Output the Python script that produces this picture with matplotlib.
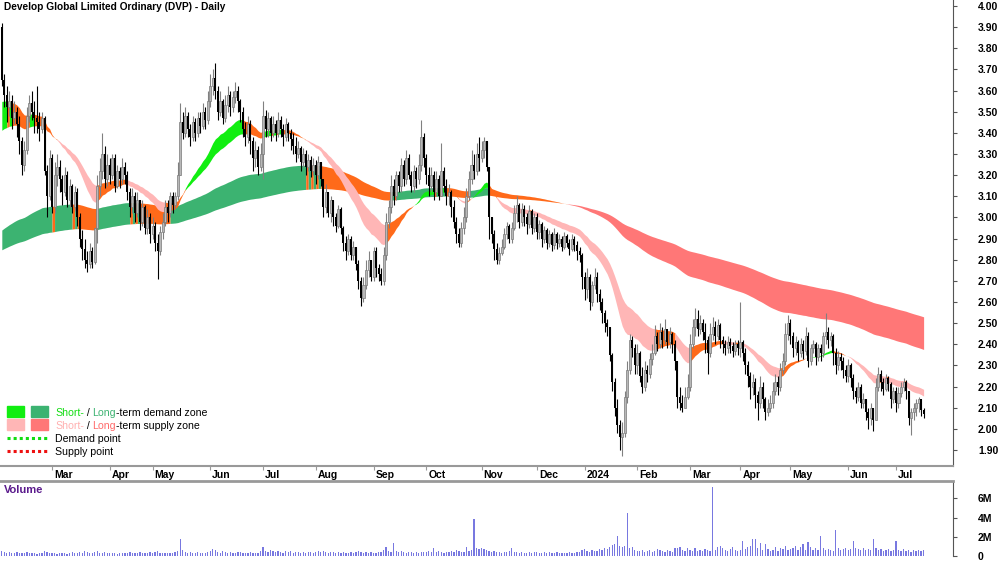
import numpy as np
import pandas as pd
import matplotlib
matplotlib.use('Agg')
import matplotlib.pyplot as plt
from matplotlib import font_manager
from matplotlib.transforms import blended_transform_factory
from matplotlib.patches import Rectangle
from matplotlib.lines import Line2D

plt.rcParams['font.family'] = ['Liberation Sans', 'DejaVu Sans']
font_names = {f.name for f in font_manager.fontManager.ttflist}
has_narrow = 'Liberation Sans Narrow' in font_names

# ASX trading days shown on the chart
holidays = ['2023-04-07', '2023-04-10', '2023-04-25', '2023-06-12', '2023-12-25', '2023-12-26',
            '2024-01-01', '2024-01-26', '2024-03-29', '2024-04-01', '2024-04-25', '2024-06-10']
dates = pd.bdate_range('2023-02-01', '2024-07-16', freq='C', holidays=holidays)

first_open = 3.90

closes = [
    # Feb 2023
    3.65, 3.58, 3.52, 3.55, 3.47, 3.50, 3.44, 3.36, 3.25, 3.32,
    3.48, 3.54, 3.50, 3.47, 3.45, 3.42, 3.47, 3.22, 3.10, 3.28,
    # Mar
    3.05, 3.20, 3.24, 3.18, 3.12, 3.20, 3.08, 3.15, 3.05, 3.12,
    3.00, 2.90, 2.85, 2.80, 2.78, 2.84, 2.79, 2.95, 3.15, 3.22,
    3.30, 3.18, 3.25,
    # Apr
    3.20, 3.28, 3.15, 3.22, 3.18, 3.24, 3.20, 3.12, 3.05, 3.10,
    3.02, 3.08, 2.98, 3.05, 2.95, 3.00, 2.92,
    # May
    2.96, 2.88, 2.84, 2.93, 2.98, 3.05, 3.02, 3.10, 3.06, 3.10,
    3.20, 3.45, 3.40, 3.48, 3.42, 3.38, 3.45, 3.40, 3.47, 3.43,
    3.50, 3.46, 3.55,
    # Jun
    3.62, 3.66, 3.60, 3.50, 3.55, 3.47, 3.53, 3.58, 3.52, 3.57,
    3.60, 3.55, 3.50, 3.42, 3.38, 3.44, 3.36, 3.28, 3.32, 3.24,
    3.30,
    # Jul
    3.48, 3.42, 3.47, 3.40, 3.44, 3.40, 3.46, 3.42, 3.38, 3.44,
    3.40, 3.37, 3.34, 3.30, 3.33, 3.26, 3.30, 3.24, 3.27, 3.22,
    3.25,
    # Aug
    3.20, 3.26, 3.18, 3.05, 3.12, 3.02, 3.08, 3.00, 2.96, 3.04,
    2.95, 2.88, 2.84, 2.90, 2.82, 2.86, 2.78, 2.70, 2.62, 2.68,
    2.75, 2.80, 2.72,
    # Sep
    2.84, 2.76, 2.73, 2.70, 2.82, 2.98, 3.05, 3.15, 3.10, 3.20,
    3.15, 3.25, 3.18, 3.28, 3.20, 3.15, 3.22, 3.18, 3.25, 3.38,
    3.28,
    # Oct
    3.20, 3.15, 3.20, 3.12, 3.18, 3.10, 3.22, 3.15, 3.10, 3.12,
    3.05, 2.98, 2.92, 2.88, 2.95, 3.00, 3.10, 3.18, 3.25, 3.22,
    3.30, 3.28,
    # Nov
    3.32, 3.36, 3.24, 3.00, 2.92, 2.85, 2.80, 2.83, 2.86, 2.92,
    2.96, 2.90, 2.95, 3.02, 3.06, 2.98, 3.04, 3.00, 2.97, 3.03,
    2.95, 3.00,
    # Dec
    2.93, 2.97, 2.90, 2.94, 2.88, 2.92, 2.87, 2.92, 2.88, 2.90,
    2.86, 2.91, 2.88, 2.85, 2.90, 2.87, 2.84, 2.82, 2.72,
    # Jan 2024
    2.66, 2.72, 2.60, 2.68, 2.72, 2.64, 2.60, 2.55, 2.50, 2.48,
    2.35, 2.22, 2.10, 2.02, 1.96, 1.98, 2.15, 2.28, 2.42, 2.38,
    2.30,
    # Feb
    2.36, 2.25, 2.20, 2.28, 2.26, 2.33, 2.36, 2.44, 2.40, 2.46,
    2.42, 2.47, 2.41, 2.45, 2.40, 2.32, 2.15, 2.12, 2.10, 2.15,
    2.20,
    # Mar
    2.40, 2.48, 2.52, 2.47, 2.50, 2.46, 2.42, 2.36, 2.45, 2.48,
    2.44, 2.49, 2.42, 2.40, 2.38, 2.41, 2.39, 2.37, 2.40, 2.38,
    # Apr
    2.41, 2.36, 2.30, 2.25, 2.20, 2.22, 2.16, 2.12, 2.20, 2.14,
    2.08, 2.10, 2.12, 2.18, 2.22, 2.20, 2.28, 2.32, 2.45, 2.50,
    # May
    2.44, 2.38, 2.41, 2.36, 2.40, 2.37, 2.44, 2.32, 2.38, 2.40,
    2.34, 2.38, 2.36, 2.44, 2.46, 2.42, 2.44, 2.36, 2.30, 2.34,
    2.32, 2.28, 2.25,
    # Jun
    2.30, 2.24, 2.18, 2.15, 2.20, 2.12, 2.14, 2.08, 2.05, 2.10,
    2.04, 2.20, 2.26, 2.22, 2.19, 2.24, 2.21, 2.14, 2.18,
    # Jul
    2.12, 2.17, 2.20, 2.22, 2.18, 2.05, 2.08, 2.10, 2.12, 2.14,
    2.09, 2.07,
]

highs = [
    3.92, 3.68, 3.62, 3.60, 3.58, 3.55, 3.52, 3.48, 3.38, 3.36,
    3.52, 3.58, 3.60, 3.55, 3.62, 3.50, 3.50, 3.48, 3.25, 3.32,
    3.30, 3.26, 3.30, 3.27, 3.20, 3.24, 3.22, 3.18, 3.16, 3.15,
    3.14, 3.02, 2.94, 2.90, 2.84, 2.88, 2.86, 2.95, 3.20, 3.28,
    3.40, 3.34, 3.30,
    3.28, 3.30, 3.30, 3.25, 3.24, 3.28, 3.26, 3.22, 3.14, 3.14,
    3.12, 3.12, 3.08, 3.08, 3.06, 3.04, 3.02,
    3.00, 2.98, 2.92, 2.96, 3.02, 3.08, 3.08, 3.12, 3.12, 3.12,
    3.26, 3.54, 3.50, 3.52, 3.50, 3.44, 3.48, 3.47, 3.50, 3.50,
    3.54, 3.52, 3.60,
    3.68, 3.70, 3.73, 3.62, 3.60, 3.56, 3.58, 3.62, 3.60, 3.60,
    3.64, 3.62, 3.56, 3.52, 3.45, 3.48, 3.46, 3.38, 3.36, 3.34,
    3.35,
    3.55, 3.51, 3.50, 3.48, 3.48, 3.46, 3.50, 3.48, 3.44, 3.47,
    3.45, 3.42, 3.40, 3.38, 3.36, 3.34, 3.33, 3.32, 3.30, 3.29,
    3.28,
    3.27, 3.29, 3.26, 3.18, 3.16, 3.12, 3.10, 3.08, 3.02, 3.06,
    3.05, 2.96, 2.91, 2.92, 2.91, 2.89, 2.86, 2.80, 2.72, 2.72,
    2.80, 2.84, 2.80,
    2.86, 2.86, 2.78, 2.76, 2.86, 3.02, 3.08, 3.20, 3.18, 3.22,
    3.22, 3.28, 3.27, 3.32, 3.30, 3.22, 3.25, 3.24, 3.30, 3.46,
    3.40,
    3.30, 3.24, 3.24, 3.22, 3.22, 3.20, 3.35, 3.24, 3.18, 3.16,
    3.13, 3.08, 3.00, 2.95, 2.98, 3.05, 3.14, 3.22, 3.32, 3.30,
    3.35, 3.38,
    3.36, 3.38, 3.36, 3.12, 3.00, 2.94, 2.88, 2.86, 2.90, 2.95,
    2.98, 2.97, 2.98, 3.06, 3.10, 3.07, 3.07, 3.06, 3.02, 3.06,
    3.04, 3.02,
    3.02, 2.99, 2.98, 2.96, 2.95, 2.94, 2.93, 2.95, 2.93, 2.92,
    2.91, 2.93, 2.92, 2.90, 2.92, 2.91, 2.89, 2.86, 2.83,
    2.74, 2.76, 2.73, 2.70, 2.76, 2.74, 2.66, 2.62, 2.56, 2.52,
    2.48, 2.36, 2.24, 2.14, 2.04, 2.03, 2.18, 2.32, 2.45, 2.44,
    2.40,
    2.40, 2.37, 2.29, 2.32, 2.30, 2.36, 2.40, 2.49, 2.46, 2.50,
    2.48, 2.52, 2.47, 2.48, 2.46, 2.42, 2.32, 2.20, 2.16, 2.20,
    2.26,
    2.45, 2.52, 2.57, 2.56, 2.54, 2.52, 2.50, 2.44, 2.50, 2.53,
    2.51, 2.52, 2.50, 2.44, 2.42, 2.44, 2.43, 2.41, 2.42, 2.42,
    2.60, 2.42, 2.38, 2.32, 2.27, 2.26, 2.24, 2.18, 2.25, 2.22,
    2.15, 2.14, 2.16, 2.22, 2.26, 2.25, 2.31, 2.36, 2.50, 2.54,
    2.52, 2.46, 2.44, 2.42, 2.43, 2.42, 2.48, 2.46, 2.40, 2.42,
    2.41, 2.40, 2.40, 2.46, 2.55, 2.48, 2.46, 2.45, 2.38, 2.37,
    2.36, 2.34, 2.30,
    2.33, 2.31, 2.26, 2.20, 2.22, 2.21, 2.17, 2.14, 2.10, 2.12,
    2.10, 2.24, 2.29, 2.28, 2.24, 2.26, 2.25, 2.22, 2.20,
    2.20, 2.20, 2.22, 2.24, 2.23, 2.16, 2.10, 2.12, 2.14, 2.15,
    2.14, 2.10,
]

lows = [
    3.62, 3.52, 3.45, 3.48, 3.42, 3.44, 3.38, 3.30, 3.20, 3.22,
    3.30, 3.45, 3.46, 3.40, 3.40, 3.36, 3.40, 3.20, 3.00, 3.08,
    3.02, 3.02, 3.15, 3.12, 3.06, 3.10, 3.05, 3.05, 3.02, 3.03,
    2.96, 2.86, 2.80, 2.76, 2.74, 2.76, 2.76, 2.78, 2.88, 3.10,
    3.18, 3.14, 3.15,
    3.16, 3.18, 3.12, 3.14, 3.14, 3.16, 3.16, 3.08, 3.00, 3.02,
    2.98, 3.00, 2.94, 2.96, 2.92, 2.92, 2.88,
    2.90, 2.84, 2.71, 2.82, 2.90, 2.96, 2.98, 3.00, 3.02, 3.04,
    3.08, 3.20, 3.37, 3.38, 3.38, 3.34, 3.36, 3.36, 3.38, 3.40,
    3.42, 3.42, 3.44,
    3.52, 3.58, 3.56, 3.46, 3.48, 3.44, 3.45, 3.50, 3.48, 3.50,
    3.54, 3.50, 3.45, 3.38, 3.34, 3.35, 3.30, 3.22, 3.24, 3.20,
    3.22,
    3.18, 3.38, 3.38, 3.36, 3.38, 3.36, 3.38, 3.38, 3.34, 3.36,
    3.36, 3.32, 3.30, 3.26, 3.28, 3.22, 3.24, 3.20, 3.22, 3.19,
    3.20,
    3.16, 3.18, 3.15, 3.00, 3.02, 3.00, 2.98, 2.96, 2.93, 2.95,
    2.92, 2.84, 2.80, 2.82, 2.80, 2.80, 2.75, 2.66, 2.58, 2.60,
    2.66, 2.72, 2.70,
    2.70, 2.72, 2.70, 2.68, 2.68, 2.80, 2.95, 3.02, 3.06, 3.08,
    3.12, 3.12, 3.15, 3.16, 3.18, 3.12, 3.12, 3.14, 3.16, 3.22,
    3.24,
    3.16, 3.10, 3.12, 3.08, 3.10, 3.08, 3.10, 3.12, 3.06, 3.06,
    3.00, 2.95, 2.88, 2.86, 2.86, 2.92, 2.98, 3.08, 3.16, 3.18,
    3.20, 3.22,
    3.26, 3.28, 3.22, 2.90, 2.88, 2.80, 2.78, 2.78, 2.82, 2.85,
    2.90, 2.88, 2.88, 2.94, 2.98, 2.95, 2.96, 2.96, 2.92, 2.95,
    2.92, 2.93,
    2.90, 2.90, 2.86, 2.88, 2.85, 2.86, 2.84, 2.85, 2.85, 2.86,
    2.84, 2.85, 2.86, 2.82, 2.84, 2.84, 2.80, 2.79, 2.66,
    2.61, 2.62, 2.56, 2.58, 2.66, 2.60, 2.56, 2.50, 2.46, 2.44,
    2.32, 2.18, 2.06, 1.98, 1.90, 1.87, 1.96, 2.12, 2.26, 2.34,
    2.26,
    2.26, 2.22, 2.17, 2.18, 2.22, 2.24, 2.30, 2.35, 2.37, 2.38,
    2.38, 2.40, 2.38, 2.38, 2.36, 2.28, 2.10, 2.09, 2.08, 2.10,
    2.14,
    2.18, 2.38, 2.44, 2.44, 2.45, 2.42, 2.36, 2.26, 2.34, 2.42,
    2.40, 2.42, 2.38, 2.36, 2.35, 2.36, 2.36, 2.34, 2.35, 2.35,
    2.34, 2.32, 2.26, 2.20, 2.14, 2.16, 2.10, 2.04, 2.10, 2.10,
    2.04, 2.06, 2.08, 2.10, 2.16, 2.16, 2.18, 2.26, 2.30, 2.42,
    2.40, 2.34, 2.35, 2.32, 2.34, 2.33, 2.35, 2.29, 2.30, 2.36,
    2.30, 2.32, 2.32, 2.34, 2.40, 2.38, 2.39, 2.30, 2.26, 2.28,
    2.28, 2.24, 2.22,
    2.22, 2.20, 2.14, 2.12, 2.13, 2.10, 2.10, 2.04, 2.00, 2.02,
    1.99, 2.04, 2.18, 2.18, 2.16, 2.18, 2.18, 2.10, 2.12,
    2.08, 2.10, 2.15, 2.18, 2.14, 2.02, 1.97, 2.04, 2.06, 2.08,
    2.06, 2.05,
]

# volume in millions of shares
volumes = [
    0.5, 0.4, 0.3, 0.4, 0.3, 0.3, 0.4, 0.3, 0.3, 0.3, 0.4, 0.3, 0.3, 0.3, 0.2, 0.3, 0.3, 0.5, 0.4, 0.3,
    0.3, 0.3, 0.2, 0.3, 0.3, 0.3, 0.2, 0.3, 0.4, 0.3, 0.3, 0.4, 0.3, 0.5, 0.4, 0.3, 0.3, 0.4, 0.5, 0.3,
    0.3, 0.4, 0.3,
    0.3, 0.3, 0.3, 0.2, 0.3, 0.3, 0.3, 0.3, 0.4, 0.3, 0.3, 0.3, 0.4, 0.3, 0.3, 0.3, 0.4,
    0.3, 0.4, 0.5, 0.3, 0.3, 0.3, 0.3, 0.3, 0.3, 0.4, 0.5, 1.8, 0.6, 0.4, 0.3, 0.4, 0.3, 0.3, 0.4, 0.3,
    0.3, 0.3, 0.4,
    0.5, 0.7, 0.6, 0.4, 0.3, 0.5, 0.4, 0.3, 0.4, 0.3, 0.3, 0.4, 0.4, 0.3, 0.3, 0.3, 0.4, 0.3, 0.3, 0.3,
    0.5,
    0.9, 0.5, 0.4, 0.6, 0.5, 0.4, 0.5, 0.4, 0.3, 0.5, 0.4, 0.5, 0.3, 0.4, 0.4, 0.3, 0.4, 0.3, 0.4, 0.4,
    0.3,
    0.4, 0.5, 0.4, 0.5, 0.4, 0.3, 0.4, 0.4, 0.3, 0.4, 0.3, 0.4, 0.3, 0.3, 0.4, 0.3, 0.4, 0.5, 0.4, 0.3,
    0.4, 0.3, 0.4,
    0.3, 0.3, 0.4, 0.4, 0.6, 0.9, 0.5, 0.4, 1.4, 0.5, 0.4, 0.5, 0.4, 0.3, 0.4, 0.4, 0.3, 0.4, 0.3, 0.4,
    0.4,
    0.4, 0.5, 0.4, 0.8, 0.4, 0.5, 0.4, 0.3, 0.4, 0.4, 0.5, 0.4, 0.6, 0.5, 0.4, 0.4, 0.9, 0.5, 0.6, 3.8,
    0.8, 0.7,
    0.8, 0.7, 0.6, 0.5, 0.4, 0.5, 0.4, 0.4, 0.3, 0.4, 0.4, 0.5, 0.8, 0.4, 0.4, 0.3, 0.4, 0.3, 0.3, 0.4,
    0.3, 0.4,
    0.4, 0.3, 0.3, 0.4, 0.3, 0.4, 0.3, 0.3, 0.4, 0.3, 0.3, 0.3, 0.3, 0.4, 0.3, 0.3, 0.4, 0.4, 0.6,
    0.7, 0.5, 0.4, 0.6, 0.5, 0.5, 0.7, 0.6, 0.8, 0.7, 0.9, 1.1, 1.2, 2.1, 1.0, 0.9, 1.0, 4.5, 0.8, 0.9,
    0.6,
    0.5, 0.5, 0.6, 0.4, 0.5, 0.6, 0.4, 0.5, 0.7, 0.6, 0.5, 0.4, 0.6, 0.5, 0.4, 0.8, 0.8, 0.9, 0.6, 0.5,
    0.8,
    0.6, 0.5, 0.8, 0.5, 0.6, 0.5, 0.7, 0.6, 0.5, 7.2, 0.6, 0.9, 1.0, 0.8, 0.6, 0.5, 0.7, 0.9, 0.6, 0.5,
    0.6, 1.6, 0.7, 0.9, 1.0, 1.8, 1.8, 0.8, 1.4, 0.6, 1.2, 0.7, 0.5, 0.6, 0.9, 0.5, 0.8, 0.7, 1.0, 0.6,
    0.7, 0.8, 1.0, 0.6, 0.9, 1.2, 0.6, 1.5, 0.9, 0.6, 0.8, 0.6, 2.1, 0.8, 0.6, 0.7, 0.6, 0.5, 2.7, 0.8,
    0.6, 0.7, 0.8,
    0.6, 0.7, 1.6, 0.8, 0.7, 0.6, 0.8, 0.6, 0.7, 0.6, 1.8, 0.8, 0.6, 0.7, 0.5, 0.6, 0.7, 0.5, 0.6,
    1.6, 0.6, 0.5, 0.7, 0.5, 0.6, 0.4, 0.6, 0.5, 0.6, 0.5, 0.6,
]

month_names = ['Jan', 'Feb', 'Mar', 'Apr', 'May', 'Jun', 'Jul', 'Aug', 'Sep', 'Oct', 'Nov', 'Dec']

n = len(closes)
dates = dates[:n]
x = np.arange(n)
c = np.array(closes)
o = np.array([first_open] + closes[:-1])
h = np.maximum(np.array(highs), np.maximum(o, c))
l = np.minimum(np.array(lows), np.minimum(o, c))
v = np.array(volumes)


def ema(values, span, seed):
    a = 2.0 / (span + 1)
    out = []
    e = seed
    for p in values:
        e = e + a * (p - e)
        out.append(e)
    return np.array(out)


def band_colors(fast, slow, seed, up_col, dn_col, mix_col):
    slope = np.diff(fast, prepend=seed)
    cols = []
    for f, s, d in zip(fast, slow, slope):
        if f >= s and d >= 0:
            cols.append(up_col)
        elif f < s and d < 0:
            cols.append(dn_col)
        else:
            cols.append(mix_col)
    return cols


def draw_band(ax, fast, slow, cols):
    lo = np.minimum(fast, slow)
    hi = np.maximum(fast, slow)
    start = 0
    for i in range(1, n + 1):
        if i == n or cols[i] != cols[start]:
            end = min(i, n - 1)
            ax.fill_between(x[start:end + 1], lo[start:end + 1], hi[start:end + 1],
                            color=cols[start], lw=0, zorder=1)
            start = i


ORANGE = '#FF6A1A'
short_fast = ema(c, 25, 3.54)
short_slow = ema(c, 40, 3.40)
long_fast = ema(c, 140, 2.93)
long_slow = ema(c, 240, 2.84)

fig = plt.figure(figsize=(10, 5.62), dpi=100)
ax = fig.add_axes([0, 1 - 466 / 562, 0.953, 466 / 562])
axv = fig.add_axes([0, 6 / 562, 0.953, 75 / 562])

draw_band(ax, long_fast, long_slow,
          band_colors(long_fast, long_slow, 2.93, '#3CB371', '#FF7777', ORANGE))
draw_band(ax, short_fast, short_slow,
          band_colors(short_fast, short_slow, 3.54, '#11EE11', '#FFB6B6', ORANGE))

# candles
up = c >= o
body = np.where(np.abs(c - o) < 0.004, 0.004, c - o)
ax.vlines(x[up], l[up], h[up], color='#808080', lw=0.8, zorder=2)
ax.vlines(x[~up], l[~up], h[~up], color='black', lw=0.8, zorder=2)
ax.bar(x[up], body[up], bottom=o[up], width=0.8, color='#b8b8b8',
       edgecolor='#7a7a7a', lw=0.5, zorder=3)
ax.bar(x[~up], body[~up], bottom=o[~up], width=0.8, color='black', lw=0, zorder=3)

ax.set_xlim(-0.72, 378.7)
ax.set_ylim(1.824, 4.0284)
ax.yaxis.tick_right()
ax.set_yticks(np.round(np.arange(1.9, 4.001, 0.1), 2))
ax.set_yticklabels(['%.2f' % t for t in np.arange(1.9, 4.001, 0.1)])
ax.tick_params(axis='y', length=3, color='#555555', pad=15, labelsize=7.5)
for t in ax.get_yticklabels():
    t.set_fontweight('bold')
for s in ['left', 'top']:
    ax.spines[s].set_visible(False)
ax.spines['right'].set_color('#555555')
ax.spines['bottom'].set_color('#999999')
ax.spines['bottom'].set_linewidth(1.5)

# month ticks
month_idx = [i for i in range(1, n) if dates[i].month != dates[i - 1].month]
ax.set_xticks(month_idx)
ax.set_xticklabels([])
ax.tick_params(axis='x', length=3, color='#999999')
trans = blended_transform_factory(ax.transData, ax.transAxes)
for i in month_idx:
    d = dates[i]
    lab = str(d.year) if d.month == 1 else month_names[d.month - 1]
    ax.text(i + 0.8, -0.009, lab, transform=trans, ha='left', va='top',
            fontsize=7.5, fontweight='bold')

# volume
axv.bar(x, v, width=0.5, color='#7878E0', lw=0)
axv.set_xlim(-0.72, 378.7)
axv.set_ylim(0, 7.8)
axv.yaxis.tick_right()
axv.set_yticks([0, 2, 4, 6])
axv.set_yticklabels(['0', '2M', '4M', '6M'])
axv.tick_params(axis='y', length=3, color='#555555', pad=15, labelsize=7.5)
for t in axv.get_yticklabels():
    t.set_fontweight('bold')
axv.set_xticks([])
axv.spines['left'].set_visible(False)
axv.spines['bottom'].set_visible(False)
axv.spines['right'].set_color('#555555')
axv.spines['top'].set_color('#999999')
axv.spines['top'].set_linewidth(2)
axv.text(0.004, 0.88, 'Volume', transform=axv.transAxes, color='#5A1A8C',
         fontsize=8, fontweight='bold', va='center', ha='left')

# title (condensed bold in the original)
if has_narrow:
    fig.text(4 / 1000, 1 - 7 / 562, 'Develop Global Limited Ordinary (DVP) - Daily',
             family=['Liberation Sans Narrow', 'Liberation Sans'], fontsize=9,
             fontweight='bold', va='center', ha='left')
else:
    fig.text(4 / 1000, 1 - 7 / 562, 'Develop Global Limited Ordinary (DVP) - Daily',
             fontsize=7.3, fontweight='bold', va='center', ha='left')


def px(xp, yp):
    return xp / 1000, 1 - yp / 562


def color_text(xp, yp, parts):
    t = fig.text(*px(xp, yp), parts[0][0], color=parts[0][1], fontsize=7.6,
                 va='baseline', ha='left')
    for s, col in parts[1:]:
        t = ax.annotate(s, xy=(1, 0), xycoords=t, color=col, fontsize=7.6,
                        va='bottom', ha='left')


# legend
for (x0, col) in [(7, '#11EE11'), (31, '#3CB371')]:
    fig.patches.append(Rectangle(px(x0, 417), 17 / 1000, 11 / 562, color=col,
                                 transform=fig.transFigure, figure=fig))
for (x0, col) in [(7, '#FFB6B6'), (31, '#FF7777')]:
    fig.patches.append(Rectangle(px(x0, 430), 17 / 1000, 11 / 562, color=col,
                                 transform=fig.transFigure, figure=fig))
for yp, col in [(438, '#11DD11'), (451, '#EE1111')]:
    fig.lines.append(Line2D([7 / 1000, 48 / 1000], [1 - yp / 562] * 2, color=col, lw=2.2,
                            ls=(0, (1, 1)), transform=fig.transFigure, figure=fig))

color_text(55, 416, [('Short-', '#11DD11'), (' / ', 'black'), ('Long', '#3CB371'),
                     ('-term demand zone', 'black')])
color_text(55, 429, [('Short-', '#FFB0B0'), (' / ', 'black'), ('Long', '#FF6A6A'),
                     ('-term supply zone', 'black')])
fig.text(*px(55, 442), 'Demand point', fontsize=7.6, va='baseline', ha='left')
fig.text(*px(55, 455), 'Supply point', fontsize=7.6, va='baseline', ha='left')

fig.savefig('out.png', dpi=100)
